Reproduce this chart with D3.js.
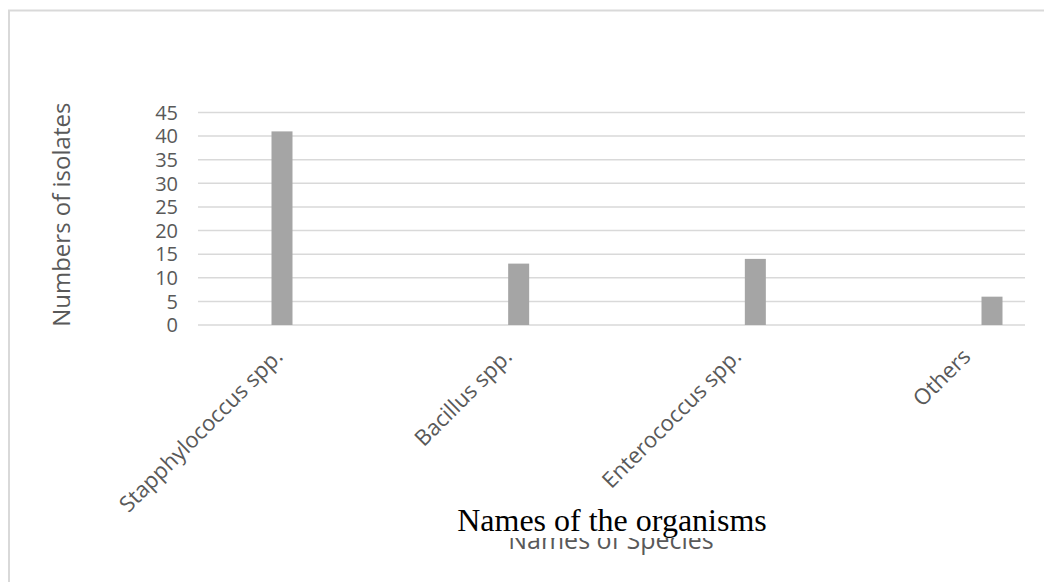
<!DOCTYPE html>
<html>
<head>
<meta charset="utf-8">
<script src="https://cdn.jsdelivr.net/npm/d3@7"></script>
<style>
  html, body { margin: 0; padding: 0; background: #fff; }
  svg { display: block; }
</style>
</head>
<body>
<svg id="chart" width="1044" height="582"></svg>
<script>
// Isolate counts per organism group
const categories = ["Stapphylococcus spp.", "Bacillus spp.", "Enterococcus spp.", "Others"];
const isolates = [41, 13, 14, 6];
const yTicks = [0, 5, 10, 15, 20, 25, 30, 35, 40, 45];
const yTitle = "Numbers of isolates";
const xTitleBack = "Names of Species";
const xTitleFront = "Names of the organisms";

const svg = d3.select("#chart");
const W = 1044, H = 582;
const sans = "'Open Sans', 'Noto Sans', sans-serif";
const textGrey = "#595959";

svg.append("rect").attr("width", W).attr("height", H).attr("fill", "#fff");

// outer frame (top and left edges)
svg.append("path")
  .attr("d", `M9,${H} V10.5 H${W}`)
  .attr("fill", "none")
  .attr("stroke", "#d9d9d9")
  .attr("stroke-width", 2);

const plot = { left: 198, right: 1025, top: 112.5, bottom: 325 };

const y = d3.scaleLinear().domain([0, 45]).range([plot.bottom, plot.top]);
const x = d3.scalePoint().domain(categories).range([282, 992]);
const xLabel = d3.scalePoint().domain(categories).range([284, 972]);

// horizontal gridlines
svg.append("g")
  .selectAll("line")
  .data(yTicks)
  .join("line")
  .attr("x1", plot.left).attr("x2", plot.right)
  .attr("y1", d => y(d)).attr("y2", d => y(d))
  .attr("stroke", "#d9d9d9")
  .attr("stroke-width", 1.5);

// y tick labels
svg.append("g")
  .selectAll("text")
  .data(yTicks)
  .join("text")
  .attr("x", 178)
  .attr("y", d => y(d))
  .attr("dy", "0.36em")
  .attr("text-anchor", "end")
  .attr("font-family", sans)
  .attr("font-size", 20)
  .attr("fill", textGrey)
  .text(d => d);

// bars
const barW = 21;
svg.append("g")
  .selectAll("rect")
  .data(categories.map((c, i) => ({ c, v: isolates[i] })))
  .join("rect")
  .attr("x", d => x(d.c) - barW / 2)
  .attr("width", barW)
  .attr("y", d => y(d.v))
  .attr("height", d => y(0) - y(d.v))
  .attr("fill", "#a5a5a5");

// category labels, rotated
svg.append("g")
  .selectAll("text")
  .data(categories)
  .join("text")
  .attr("transform", d => `translate(${xLabel(d)},358) rotate(-45)`)
  .attr("text-anchor", "end")
  .attr("font-family", sans)
  .attr("font-size", 22)
  .attr("fill", textGrey)
  .text(d => d);

// y axis title
svg.append("text")
  .attr("transform", `translate(70,${(plot.top + plot.bottom) / 2 - 4}) rotate(-90)`)
  .attr("text-anchor", "middle")
  .attr("font-family", sans)
  .attr("font-size", 24)
  .attr("fill", textGrey)
  .text(yTitle);

// original x title, partly covered by the replacement title
svg.append("text")
  .attr("x", 611)
  .attr("y", 549)
  .attr("text-anchor", "middle")
  .attr("font-family", sans)
  .attr("font-size", 25)
  .attr("fill", textGrey)
  .text(xTitleBack);

svg.append("rect")
  .attr("x", 445).attr("y", 498)
  .attr("width", 335).attr("height", 40)
  .attr("fill", "#fff");

svg.append("text")
  .attr("x", 612)
  .attr("y", 531)
  .attr("text-anchor", "middle")
  .attr("font-family", "'Liberation Serif', 'Times New Roman', serif")
  .attr("font-size", 32)
  .attr("fill", "#000")
  .text(xTitleFront);
</script>
</body>
</html>
